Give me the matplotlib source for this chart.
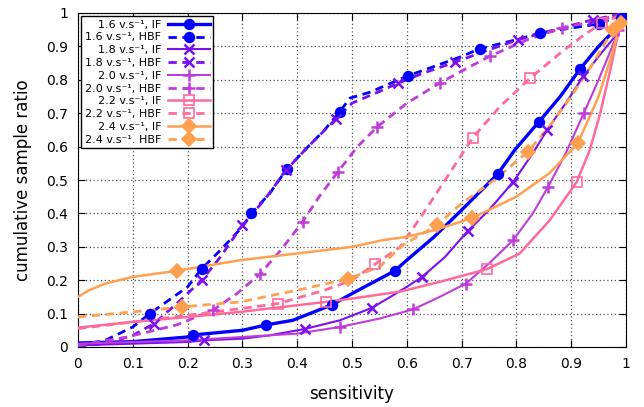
import numpy as np
import matplotlib.pyplot as plt

# curves: (sensitivity, cumulative sample ratio)
x16_if = [0, 0.1, 0.2, 0.21, 0.3, 0.343, 0.392, 0.463, 0.5, 0.578, 0.6, 0.65, 0.7, 0.766, 0.797, 0.841, 0.88, 0.916, 0.95, 0.98, 1.0]
y16_if = [0.012, 0.016, 0.03, 0.036, 0.05, 0.066, 0.08, 0.126, 0.16, 0.228, 0.26, 0.33, 0.41, 0.518, 0.59, 0.674, 0.75, 0.832, 0.9, 0.95, 1.0]
m16_if_x = [0.21, 0.343, 0.463, 0.578, 0.766, 0.841, 0.916, 0.99]
m16_if_y = [0.036, 0.066, 0.126, 0.228, 0.518, 0.674, 0.832, 0.985]

x16_hbf = [0, 0.05, 0.1, 0.131, 0.2, 0.226, 0.26, 0.3, 0.316, 0.35, 0.381, 0.42, 0.45, 0.478, 0.496, 0.533, 0.602, 0.65, 0.7, 0.733, 0.8, 0.843, 0.9, 0.95, 1.0]
y16_hbf = [0.005, 0.02, 0.06, 0.10, 0.18, 0.235, 0.29, 0.36, 0.40, 0.46, 0.533, 0.6, 0.65, 0.705, 0.745, 0.763, 0.812, 0.84, 0.87, 0.893, 0.92, 0.94, 0.955, 0.967, 1.0]
m16_hbf_x = [0.131, 0.226, 0.316, 0.381, 0.478, 0.602, 0.733, 0.843, 0.95, 1.0]
m16_hbf_y = [0.10, 0.235, 0.40, 0.533, 0.705, 0.812, 0.893, 0.94, 0.967, 0.99]

x18_if = [0, 0.1, 0.2, 0.23, 0.3, 0.35, 0.414, 0.478, 0.536, 0.57, 0.6, 0.628, 0.67, 0.711, 0.75, 0.794, 0.83, 0.856, 0.89, 0.922, 0.95, 0.98, 1.0]
y18_if = [0.005, 0.01, 0.015, 0.02, 0.025, 0.035, 0.054, 0.08, 0.117, 0.15, 0.18, 0.21, 0.27, 0.347, 0.41, 0.494, 0.58, 0.65, 0.73, 0.81, 0.87, 0.93, 0.99]
m18_if_x = [0.23, 0.414, 0.536, 0.628, 0.711, 0.794, 0.856, 0.922]
m18_if_y = [0.02, 0.054, 0.117, 0.21, 0.347, 0.494, 0.65, 0.81]

x18_hbf = [0, 0.05, 0.1, 0.139, 0.18, 0.226, 0.26, 0.3, 0.34, 0.38, 0.42, 0.471, 0.5, 0.55, 0.584, 0.63, 0.688, 0.75, 0.803, 0.87, 0.94, 1.0]
y18_hbf = [0.003, 0.01, 0.035, 0.07, 0.13, 0.2, 0.27, 0.365, 0.44, 0.53, 0.6, 0.683, 0.73, 0.765, 0.79, 0.82, 0.853, 0.89, 0.92, 0.95, 0.98, 1.0]
m18_hbf_x = [0.139, 0.226, 0.3, 0.38, 0.471, 0.584, 0.688, 0.803, 0.94]
m18_hbf_y = [0.07, 0.2, 0.365, 0.53, 0.683, 0.79, 0.853, 0.92, 0.98]

x20_if = [0, 0.1, 0.2, 0.3, 0.4, 0.478, 0.55, 0.612, 0.66, 0.708, 0.75, 0.794, 0.83, 0.858, 0.89, 0.923, 0.95, 0.975, 1.0]
y20_if = [0.01, 0.015, 0.02, 0.03, 0.04, 0.06, 0.085, 0.113, 0.15, 0.19, 0.25, 0.32, 0.4, 0.48, 0.58, 0.70, 0.8, 0.9, 1.0]
m20_if_x = [0.478, 0.612, 0.708, 0.794, 0.858, 0.923, 0.985]
m20_if_y = [0.06, 0.113, 0.19, 0.32, 0.48, 0.70, 0.95]

x20_hbf = [0, 0.09, 0.18, 0.246, 0.29, 0.332, 0.37, 0.41, 0.44, 0.474, 0.51, 0.546, 0.6, 0.66, 0.71, 0.752, 0.82, 0.883, 0.94, 1.0]
y20_hbf = [0.005, 0.03, 0.066, 0.11, 0.16, 0.218, 0.29, 0.375, 0.45, 0.524, 0.6, 0.659, 0.73, 0.79, 0.835, 0.871, 0.92, 0.955, 0.975, 1.0]
m20_hbf_x = [0.246, 0.332, 0.41, 0.474, 0.546, 0.66, 0.752, 0.883]
m20_hbf_y = [0.11, 0.218, 0.375, 0.524, 0.659, 0.79, 0.871, 0.955]

x22_if = [0, 0.1, 0.2, 0.296, 0.4, 0.453, 0.5, 0.588, 0.66, 0.746, 0.806, 0.861, 0.91, 0.934, 0.953, 0.97, 0.99, 1.0]
y22_if = [0.058, 0.075, 0.09, 0.105, 0.125, 0.135, 0.145, 0.166, 0.195, 0.233, 0.28, 0.38, 0.494, 0.59, 0.7, 0.82, 0.97, 0.99]
m22_if_x = [0.453, 0.746, 0.91]
m22_if_y = [0.135, 0.233, 0.494]

x22_hbf = [0, 0.1, 0.2, 0.296, 0.365, 0.45, 0.5, 0.542, 0.588, 0.63, 0.67, 0.72, 0.77, 0.825, 0.88, 0.92, 0.956, 1.0]
y22_hbf = [0.055, 0.075, 0.095, 0.115, 0.13, 0.17, 0.2, 0.248, 0.3, 0.4, 0.5, 0.626, 0.72, 0.805, 0.88, 0.93, 0.97, 1.0]
m22_hbf_x = [0.365, 0.542, 0.72, 0.825, 0.956]
m22_hbf_y = [0.13, 0.248, 0.626, 0.805, 0.97]

x24_if = [0, 0.02, 0.05, 0.1, 0.18, 0.296, 0.4, 0.5, 0.557, 0.6, 0.651, 0.719, 0.8, 0.86, 0.912, 0.95, 0.975, 0.99, 1.0]
y24_if = [0.15, 0.17, 0.19, 0.21, 0.228, 0.26, 0.28, 0.3, 0.32, 0.33, 0.35, 0.386, 0.45, 0.52, 0.61, 0.75, 0.88, 0.97, 0.99]
m24_if_x = [0.18, 0.719, 0.912, 0.99]
m24_if_y = [0.228, 0.386, 0.61, 0.97]

x24_hbf = [0, 0.1, 0.19, 0.296, 0.4, 0.493, 0.55, 0.593, 0.655, 0.7, 0.76, 0.821, 0.86, 0.9, 0.94, 0.976, 1.0]
y24_hbf = [0.09, 0.105, 0.12, 0.135, 0.17, 0.204, 0.24, 0.305, 0.365, 0.43, 0.5, 0.585, 0.66, 0.75, 0.85, 0.95, 1.0]
m24_hbf_x = [0.19, 0.493, 0.655, 0.821, 0.976]
m24_hbf_y = [0.12, 0.204, 0.365, 0.585, 0.95]

series = [
    ('1.6 v.s⁻¹, IF', x16_if, y16_if, m16_if_x, m16_if_y),
    ('1.6 v.s⁻¹, HBF', x16_hbf, y16_hbf, m16_hbf_x, m16_hbf_y),
    ('1.8 v.s⁻¹, IF', x18_if, y18_if, m18_if_x, m18_if_y),
    ('1.8 v.s⁻¹, HBF', x18_hbf, y18_hbf, m18_hbf_x, m18_hbf_y),
    ('2.0 v.s⁻¹, IF', x20_if, y20_if, m20_if_x, m20_if_y),
    ('2.0 v.s⁻¹, HBF', x20_hbf, y20_hbf, m20_hbf_x, m20_hbf_y),
    ('2.2 v.s⁻¹, IF', x22_if, y22_if, m22_if_x, m22_if_y),
    ('2.2 v.s⁻¹, HBF', x22_hbf, y22_hbf, m22_hbf_x, m22_hbf_y),
    ('2.4 v.s⁻¹, IF', x24_if, y24_if, m24_if_x, m24_if_y),
    ('2.4 v.s⁻¹. HBF', x24_hbf, y24_hbf, m24_hbf_x, m24_hbf_y),
]

colors = ['#0000ff', '#0000ff', '#7a10f0', '#7a10f0', '#c03cd8', '#c03cd8',
          '#ff6a9a', '#ff6a9a', '#ffa050', '#ffa050']
markers = ['o', 'o', 'x', 'x', '+', '+', 's', 's', 'D', 'D']
msizes = [7, 7, 7, 7, 9, 9, 7, 7, 7, 7]
widths = [2.4, 2.0, 1.5, 2.0, 1.5, 2.0, 1.8, 2.0, 1.8, 2.0]

fig = plt.figure(figsize=(6.44, 4.07), dpi=100)
ax = fig.add_axes([78/644, 60/407, 548/644, 334/407])

for i, (lab, xs, ys, mx, my) in enumerate(series):
    ls = '-' if i % 2 == 0 else (0, (3, 2))
    c = colors[i]
    ax.plot(xs, ys, color=c, lw=widths[i], ls=ls, zorder=3)
    mfc = 'none' if markers[i] == 's' else c
    mew = 1.8 if markers[i] in ('x', '+') else 1.2
    ax.plot(mx, my, ls='none', marker=markers[i], ms=msizes[i], color=c,
            mfc=mfc, mew=mew, zorder=4)
    # proxy for the legend
    ax.plot([], [], color=c, lw=widths[i], ls=ls, marker=markers[i],
            ms=msizes[i], mfc=mfc, mew=mew, label=lab)

ax.set_xlim(0, 1)
ax.set_ylim(0, 1)
ax.set_xticks(np.arange(0, 1.01, 0.1))
ax.set_yticks(np.arange(0, 1.01, 0.1))
ax.set_xticklabels(['0', '0.1', '0.2', '0.3', '0.4', '0.5', '0.6', '0.7', '0.8', '0.9', '1'])
ax.set_yticklabels(['0', '0.1', '0.2', '0.3', '0.4', '0.5', '0.6', '0.7', '0.8', '0.9', '1'])
ax.tick_params(direction='in', top=True, right=True, labelsize=10, length=5, pad=7)
ax.grid(True, color='#555555', ls=(0, (1, 2)), lw=0.9)
ax.set_axisbelow(True)
ax.set_xlabel('sensitivity', fontsize=12, labelpad=10)
ax.set_ylabel('cumulative sample ratio', fontsize=12, labelpad=10)

leg = ax.legend(loc='upper left', fontsize=8, markerfirst=False, handlelength=3.8,
                labelspacing=0.25, borderpad=0.3, handletextpad=0.6,
                fancybox=False, framealpha=1, edgecolor='black',
                borderaxespad=0.3)
leg.get_frame().set_linewidth(1.0)

fig.savefig('out.png', dpi=100)
